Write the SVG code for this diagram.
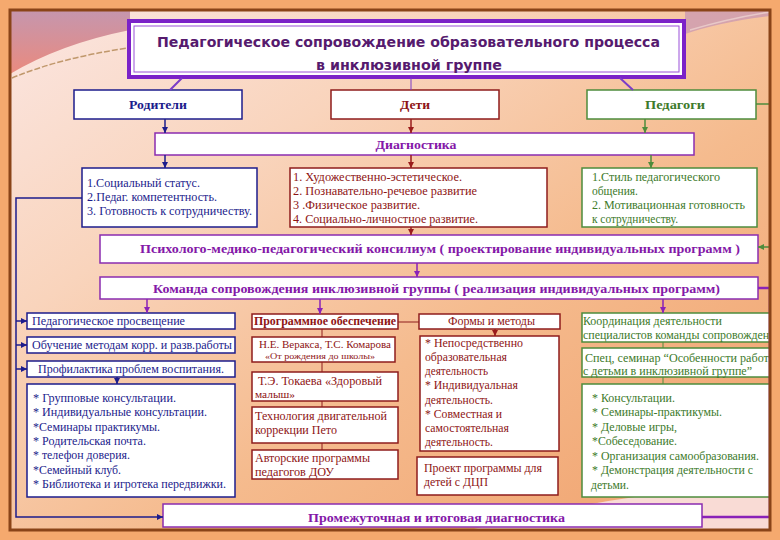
<svg xmlns="http://www.w3.org/2000/svg" width="780" height="540" viewBox="0 0 780 540">
<defs>
<linearGradient id="bg" x1="0" y1="0" x2="1" y2="1">
<stop offset="0" stop-color="#fbe6e2"/>
<stop offset="0.3" stop-color="#f9d4bc"/>
<stop offset="0.6" stop-color="#f5bb8e"/>
<stop offset="0.85" stop-color="#f2aa78"/>
<stop offset="1" stop-color="#f3ac7c"/>
</linearGradient>
<linearGradient id="mv" x1="0" y1="0" x2="0" y2="1">
<stop offset="0" stop-color="#c596ae"/>
<stop offset="1" stop-color="#ea8a7e"/>
</linearGradient>
<marker id="aB" viewBox="0 0 10 10" refX="10" refY="5" markerWidth="6" markerHeight="6" markerUnits="userSpaceOnUse" orient="auto"><path d="M0,0L10,5L0,10z" fill="#1c1c8c"/></marker>
<marker id="aR" viewBox="0 0 10 10" refX="10" refY="5" markerWidth="6" markerHeight="6" markerUnits="userSpaceOnUse" orient="auto"><path d="M0,0L10,5L0,10z" fill="#9a1c1c"/></marker>
<marker id="aG" viewBox="0 0 10 10" refX="10" refY="5" markerWidth="6" markerHeight="6" markerUnits="userSpaceOnUse" orient="auto"><path d="M0,0L10,5L0,10z" fill="#4e8c3c"/></marker>
<marker id="aP" viewBox="0 0 10 10" refX="10" refY="5" markerWidth="6" markerHeight="6" markerUnits="userSpaceOnUse" orient="auto"><path d="M0,0L10,5L0,10z" fill="#8a22b8"/></marker>
</defs>
<style>
.bx{fill:#fff;stroke-width:1.5}
.nv{stroke:#1c1c8c}.rd{stroke:#8e1c1c}.gr{stroke:#4e8c3c}.pu{stroke:#8a2cb0}
text{font-family:"Liberation Serif","Times New Roman",serif;font-size:11.5px}
.b{font-weight:bold}
.cn{fill:#1c1c8c}.cr{fill:#8e1414}.cg{fill:#3d7a2a}.cp{fill:#8418a8}
.m{text-anchor:middle}
.ln{fill:none}
</style>
<rect width="780" height="540" fill="#f5a96e"/>
<rect x="10" y="10" width="760" height="520" fill="url(#bg)"/>
<path d="M10,10H130V30Q60,44 10,74Z" fill="url(#mv)"/>
<path d="M12,78Q60,58 128,48" fill="none" stroke="#c0986c" stroke-width="1.5" stroke-dasharray="6 2"/>
<path d="M685,10H770V16Q720,22 685,34Z" fill="#cc9ab0" opacity="0.8"/>
<path d="M690,30Q730,18 770,12" fill="none" stroke="#e8c8c8" stroke-width="1.5"/>
<path d="M470,530Q620,492 770,482V530Z" fill="#f9dbd5"/>

<g id="title">
<rect x="129" y="21" width="555" height="56" fill="#fff" stroke="#7b22c8" stroke-width="4"/>
<rect x="134" y="26" width="545" height="46" fill="none" stroke="#9a50d8" stroke-width="1"/>
<text x="408.5" y="47" class="m b" style="font-family:'DejaVu Sans',sans-serif;font-size:14px;fill:#561a6e" textLength="503" lengthAdjust="spacingAndGlyphs">Педагогическое сопровождение образовательного процесса</text>
<text x="409" y="70" class="m b" style="font-family:'DejaVu Sans',sans-serif;font-size:14px;fill:#561a6e" textLength="186" lengthAdjust="spacingAndGlyphs">в инклюзивной группе</text>
</g>

<g id="roditeli"><rect x="74" y="90" width="168" height="29" class="bx nv"/><text x="158" y="109" class="m b cn" style="font-size:13px" textLength="58" lengthAdjust="spacingAndGlyphs">Родители</text></g>
<g id="deti"><rect x="331" y="90" width="168" height="29" class="bx rd"/><text x="415" y="109" class="m b cr" style="font-size:13px" textLength="30" lengthAdjust="spacingAndGlyphs">Дети</text></g>
<g id="pedagogi"><rect x="587" y="90" width="169" height="29" class="bx gr"/><text x="675" y="109" class="m b cg" style="font-size:13px" textLength="60" lengthAdjust="spacingAndGlyphs">Педагоги</text></g>

<g id="diagnostika"><rect x="155" y="133" width="539" height="22" class="bx pu"/><text x="416" y="149" class="m b cp" style="font-size:13px" textLength="81" lengthAdjust="spacingAndGlyphs">Диагностика</text></g>

<g id="diag-roditeli"><rect x="82" y="168" width="175" height="59" class="bx nv"/>
<text x="87" y="187" class="cn" textLength="113" lengthAdjust="spacingAndGlyphs">1.Социальный статус.</text>
<text x="87" y="201" class="cn" textLength="130" lengthAdjust="spacingAndGlyphs">2.Педаг. компетентность.</text>
<text x="87" y="215" class="cn" textLength="165" lengthAdjust="spacingAndGlyphs">3. Готовность к сотрудничеству.</text></g>

<g id="diag-deti"><rect x="290" y="168" width="257" height="59" class="bx rd"/>
<text x="293" y="181" class="cr" textLength="169" lengthAdjust="spacingAndGlyphs">1. Художественно-эстетическое.</text>
<text x="293" y="195" class="cr" textLength="184" lengthAdjust="spacingAndGlyphs">2. Познавательно-речевое развитие</text>
<text x="293" y="209" class="cr" textLength="127" lengthAdjust="spacingAndGlyphs">3 .Физическое развитие.</text>
<text x="293" y="223" class="cr" textLength="185" lengthAdjust="spacingAndGlyphs">4. Социально-личностное развитие.</text></g>

<g id="diag-pedagogi"><rect x="582" y="168" width="175" height="59" class="bx gr"/>
<text x="592" y="181" class="cg" textLength="128" lengthAdjust="spacingAndGlyphs">1.Стиль педагогического</text>
<text x="592" y="195" class="cg" textLength="46" lengthAdjust="spacingAndGlyphs">общения.</text>
<text x="592" y="209" class="cg" textLength="153" lengthAdjust="spacingAndGlyphs">2. Мотивационная готовность</text>
<text x="592" y="223" class="cg" textLength="86" lengthAdjust="spacingAndGlyphs">к сотрудничеству.</text></g>

<g id="pmpk"><rect x="100" y="235" width="658" height="28" class="bx pu"/><text x="440" y="253" class="m b cp" style="font-size:13px" textLength="600" lengthAdjust="spacingAndGlyphs">Психолого-медико-педагогический консилиум ( проектирование индивидуальных программ )</text></g>

<g id="komanda"><rect x="100" y="277" width="658" height="22" class="bx pu"/><text x="436.5" y="293" class="m b cp" style="font-size:13px" textLength="567" lengthAdjust="spacingAndGlyphs">Команда сопровождения инклюзивной группы ( реализация индивидуальных программ)</text></g>

<g id="prosveshenie"><rect x="27" y="313" width="208" height="16" class="bx nv"/><text x="32" y="325" class="cn" textLength="153" lengthAdjust="spacingAndGlyphs">Педагогическое просвещение</text></g>
<g id="obuchenie"><rect x="27" y="337" width="208" height="16" class="bx nv"/><text x="32" y="349" class="cn" textLength="200" lengthAdjust="spacingAndGlyphs">Обучение методам корр. и разв.работы</text></g>
<g id="profilaktika"><rect x="27" y="361" width="208" height="16" class="bx nv"/><text x="38" y="373" class="cn" textLength="186" lengthAdjust="spacingAndGlyphs">Профилактика проблем воспитания.</text></g>
<g id="formy-roditeli"><rect x="27" y="384" width="208" height="113" class="bx nv"/>
<text x="33" y="402" class="cn" textLength="143" lengthAdjust="spacingAndGlyphs">* Групповые консультации.</text>
<text x="33" y="416" class="cn" textLength="174" lengthAdjust="spacingAndGlyphs">* Индивидуальные консультации.</text>
<text x="33" y="431" class="cn" textLength="127" lengthAdjust="spacingAndGlyphs">*Семинары практикумы.</text>
<text x="33" y="445" class="cn" textLength="113" lengthAdjust="spacingAndGlyphs">* Родительская почта.</text>
<text x="33" y="459" class="cn" textLength="97" lengthAdjust="spacingAndGlyphs">* телефон доверия.</text>
<text x="33" y="474" class="cn" textLength="88" lengthAdjust="spacingAndGlyphs">*Семейный клуб.</text>
<text x="33" y="488" class="cn" textLength="193" lengthAdjust="spacingAndGlyphs">* Библиотека и игротека передвижки.</text></g>

<g id="programmnoe"><rect x="252" y="314" width="146" height="15" class="bx rd"/><text x="254" y="325" class="b cr" textLength="142" lengthAdjust="spacingAndGlyphs">Программное обеспечение</text></g>
<g id="formy-metody"><rect x="419" y="314" width="141" height="15" class="bx rd"/><text x="491.5" y="325" class="m cr" textLength="87" lengthAdjust="spacingAndGlyphs">Формы и методы</text></g>
<g id="veraksa"><rect x="252" y="337" width="143" height="25" class="bx rd"/>
<text x="325" y="348" class="m cr" style="font-size:10px" textLength="132" lengthAdjust="spacingAndGlyphs">Н.Е. Веракса, Т.С. Комарова</text>
<text x="320" y="359" class="m cr" style="font-size:9px" textLength="110" lengthAdjust="spacingAndGlyphs">«От рождения до школы»</text></g>
<g id="tokaeva"><rect x="252" y="372" width="146" height="29" class="bx rd"/>
<text x="258" y="385" class="cr" textLength="124" lengthAdjust="spacingAndGlyphs">Т.Э. Токаева «Здоровый</text>
<text x="255" y="398" class="cr" style="font-size:10px" textLength="40" lengthAdjust="spacingAndGlyphs">малыш»</text></g>
<g id="peto"><rect x="252" y="407" width="146" height="36" class="bx rd"/>
<text x="255" y="420" class="cr" textLength="132" lengthAdjust="spacingAndGlyphs">Технология двигательной</text>
<text x="255" y="434" class="cr" textLength="82" lengthAdjust="spacingAndGlyphs">коррекции Пето</text></g>
<g id="avtorskie"><rect x="252" y="450" width="146" height="29" class="bx rd"/>
<text x="255" y="462" class="cr" textLength="115" lengthAdjust="spacingAndGlyphs">Авторские программы</text>
<text x="255" y="476" class="cr" textLength="79" lengthAdjust="spacingAndGlyphs">педагогов ДОУ</text></g>
<g id="formy-deti"><rect x="420" y="336" width="139" height="115" class="bx rd"/>
<text x="425" y="347" class="cr" textLength="98" lengthAdjust="spacingAndGlyphs">* Непосредственно</text>
<text x="425" y="361" class="cr" textLength="82" lengthAdjust="spacingAndGlyphs">образовательная</text>
<text x="425" y="375" class="cr" textLength="63" lengthAdjust="spacingAndGlyphs">деятельность</text>
<text x="425" y="389" class="cr" textLength="93" lengthAdjust="spacingAndGlyphs">* Индивидуальная</text>
<text x="425" y="404" class="cr" textLength="68" lengthAdjust="spacingAndGlyphs">деятельность.</text>
<text x="425" y="418" class="cr" textLength="77" lengthAdjust="spacingAndGlyphs">* Совместная и</text>
<text x="425" y="432" class="cr" textLength="84" lengthAdjust="spacingAndGlyphs">самостоятельная</text>
<text x="425" y="446" class="cr" textLength="68" lengthAdjust="spacingAndGlyphs">деятельность.</text></g>
<g id="proekt-dcp"><rect x="417" y="457" width="141" height="38" class="bx rd"/>
<text x="424" y="472" class="cr" textLength="118" lengthAdjust="spacingAndGlyphs">Проект программы для</text>
<text x="424" y="486" class="cr" textLength="64" lengthAdjust="spacingAndGlyphs">детей с ДЦП</text></g>

<g id="koordinaciya"><rect x="582" y="313" width="195" height="29" class="bx gr"/>
<text x="583" y="325" class="cg" textLength="139" lengthAdjust="spacingAndGlyphs">Координация деятельности</text>
<text x="583" y="339" class="cg" textLength="198" lengthAdjust="spacingAndGlyphs">специалистов команды сопровождения</text></g>
<g id="seminar"><rect x="582" y="348" width="195" height="29" class="bx gr"/>
<text x="585" y="362" class="cg" textLength="192" lengthAdjust="spacingAndGlyphs">Спец, семинар “Особенности работы</text>
<text x="583" y="375" class="cg" textLength="169" lengthAdjust="spacingAndGlyphs">с детьми в инклюзивной группе”</text></g>
<g id="formy-pedagogi"><rect x="582" y="384" width="195" height="113" class="bx gr"/>
<text x="592" y="402" class="cg" textLength="83" lengthAdjust="spacingAndGlyphs">* Консультации.</text>
<text x="592" y="416" class="cg" textLength="130" lengthAdjust="spacingAndGlyphs">* Семинары-практикумы.</text>
<text x="592" y="431" class="cg" textLength="85" lengthAdjust="spacingAndGlyphs">* Деловые игры,</text>
<text x="592" y="445" class="cg" textLength="85" lengthAdjust="spacingAndGlyphs">*Собеседование.</text>
<text x="592" y="460" class="cg" textLength="167" lengthAdjust="spacingAndGlyphs">* Организация самообразования.</text>
<text x="592" y="474" class="cg" textLength="161" lengthAdjust="spacingAndGlyphs">* Демонстрация деятельности с</text>
<text x="591" y="489" class="cg" textLength="38" lengthAdjust="spacingAndGlyphs">детьми.</text></g>

<g id="itogovaya"><rect x="163" y="504" width="539" height="23" class="bx pu"/><text x="436.5" y="522" class="m b cp" style="font-size:13px" textLength="257" lengthAdjust="spacingAndGlyphs">Промежуточная и итоговая диагностика</text></g>

<g id="connectors" class="ln">
<path d="M182,78L170,90M620,78L633,90" stroke="#7b3cc8" stroke-width="2"/>
<path d="M411,78V90" stroke="#7b3cc8" stroke-width="1"/>
<g stroke="#1c1c8c" stroke-width="1.5">
<path d="M165,119V133" marker-end="url(#aB)"/>
<path d="M165,155V168" marker-end="url(#aB)"/>
<path d="M82,198H16V517H163" marker-end="url(#aB)"/>
<path d="M16,321H27" marker-end="url(#aB)"/>
<path d="M16,345H27" marker-end="url(#aB)"/>
<path d="M16,369H27" marker-end="url(#aB)"/>
<path d="M117,377V384" marker-end="url(#aB)"/>
</g>
<g stroke="#9a1c1c" stroke-width="1.5">
<path d="M411,119V133" marker-end="url(#aR)"/>
<path d="M411,155V168" marker-end="url(#aR)"/>
<path d="M411,227V235" marker-end="url(#aR)"/>
<path d="M495,329V336" marker-end="url(#aR)"/>
</g>
<path d="M322,329V337M322,362V372M322,401V407M322,443V450M398,322H419" stroke="#8e1c1c" stroke-width="1"/>
<g stroke="#4e8c3c" stroke-width="1.5">
<path d="M645,119V133" marker-end="url(#aG)"/>
<path d="M651,155V168" marker-end="url(#aG)"/>
<path d="M756,104H770V247H758" marker-end="url(#aG)"/>
</g>
<path d="M663,342V348M663,377V384" stroke="#4e8c3c" stroke-width="1"/>
<g stroke="#8a22b8" stroke-width="1.5">
<path d="M417,263V277" marker-end="url(#aP)"/>
<path d="M147,299V313" marker-end="url(#aP)"/>
<path d="M320,299V314" marker-end="url(#aP)"/>
<path d="M663,299V313" marker-end="url(#aP)"/>
<path d="M758,288H770V517H702" stroke-width="2.5"/>
</g>
</g>

<path d="M0,0H780V540H0ZM10,10V530H770V10Z" fill="#f5a96e" fill-rule="evenodd"/>
<rect x="10" y="10" width="760" height="520" fill="none" stroke="#8a4418" stroke-width="3"/>
</svg>
